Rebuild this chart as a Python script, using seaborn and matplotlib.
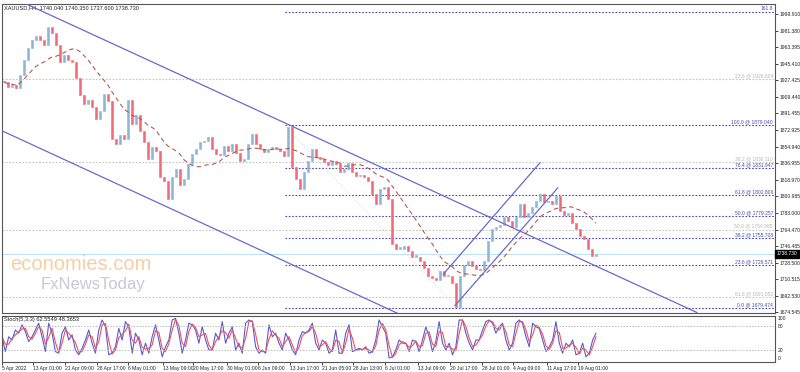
import numpy as np
import pandas as pd
import matplotlib
matplotlib.use("Agg")
import matplotlib.pyplot as plt
import seaborn as sns
from matplotlib.transforms import blended_transform_factory

# ---------------- data ----------------
closes = [1926.2, 1920.8, 1923.0, 1919.7, 1933.8, 1950.1, 1963.1, 1971.7, 1976.1, 1971.7,
          1966.3, 1986.0, 1979.3, 1966.3, 1947.9, 1955.5, 1950.1, 1947.9, 1930.5, 1912.1,
          1901.3, 1906.7, 1898.1, 1885.1, 1893.7, 1913.2, 1904.6, 1863.4, 1858.0, 1867.7,
          1863.4, 1906.7, 1879.6, 1889.4, 1872.1, 1860.2, 1841.7, 1854.7, 1850.4, 1822.2,
          1817.9, 1798.4, 1822.2, 1830.9, 1813.5, 1820.0, 1836.3, 1847.1, 1852.6, 1860.2,
          1861.2, 1865.6, 1852.6, 1847.1, 1846.0, 1855.8, 1850.4, 1858.0, 1848.2, 1839.5,
          1841.7, 1858.0, 1868.8, 1858.0, 1852.6, 1849.3, 1852.6, 1854.7, 1852.6, 1850.4,
          1845.0, 1877.0, 1833.0, 1820.0, 1809.2, 1827.6, 1839.5, 1852.6, 1843.9, 1841.7,
          1838.5, 1835.2, 1839.5, 1836.3, 1827.6, 1830.9, 1837.4, 1827.6, 1823.3, 1824.4,
          1822.2, 1817.9, 1803.8, 1793.0, 1809.2, 1811.4, 1798.4, 1749.6, 1744.2, 1744.2,
          1747.5, 1742.0, 1735.5, 1735.5, 1731.2, 1722.6, 1713.9, 1711.7, 1709.5, 1719.3,
          1713.9, 1713.9, 1706.3, 1681.0, 1713.9, 1725.8, 1731.2, 1724.7, 1722.5, 1720.4,
          1731.2, 1752.9, 1765.9, 1768.0, 1770.2, 1778.9, 1774.5, 1768.0, 1778.9, 1793.0,
          1778.9, 1783.2, 1789.7, 1796.2, 1803.8, 1795.1, 1796.2, 1793.0, 1801.6, 1785.4,
          1781.0, 1783.2, 1772.4, 1765.9, 1758.3, 1755.0, 1744.2, 1736.6, 1738.73]

stoch_k = [53, 16, 53, 45, 70, 62, 83, 66, 41, 53, 70, 87, 53, 16, 87, 62, 16, 12, 62, 78,
           45, 58, 20, 8, 24, 45, 70, 37, 12, 70, 95, 78, 8, 12, 28, 74, 45, 91, 78, 12,
           62, 45, 8, 37, 12, 53, 83, 45, 3, 28, 45, 95, 99, 62, 12, 45, 87, 83, 70, 37,
           78, 45, 20, 20, 62, 45, 91, 37, 62, 78, 20, 37, 12, 87, 95, 91, 28, 12, 20, 12,
           83, 53, 62, 37, 20, 62, 45, 20, 8, 45, 66, 62, 70, 87, 37, 20, 45, 37, 12, 20,
           70, 12, 12, 62, 83, 16, 20, 24, 20, 28, 12, 16, 45, 95, 78, 62, 0, 3, 20, 45,
           37, 37, 16, 45, 41, 16, 45, 78, 53, 16, 41, 91, 37, 20, 37, 8, 28, 95, 95, 62,
           37, 20, 45, 45, 70, 91, 95, 87, 62, 78, 87, 45, 20, 37, 87, 95, 87, 53, 28, 87,
           78, 74, 45, 16, 28, 45, 91, 37, 12, 37, 28, 45, 8, 12, 37, 3, 12, 45, 62]

fib_blue_levels = ["161.8", "100.0", "76.4", "61.8", "50.0", "38.2", "23.6", "0.0"]
fib_blue_prices = [2002.367, 1879.040, 1831.947, 1802.806, 1779.257, 1755.708, 1726.571, 1679.474]
fib_gray_levels = ["23.6", "38.2", "50.0", "61.8"]
fib_gray_prices = [1928.604, 1838.110, 1764.985, 1691.852]

price_ticks = [1999.910, 1981.380, 1963.395, 1945.410, 1927.425, 1909.440, 1891.455,
               1872.925, 1854.940, 1836.955, 1818.970, 1800.985, 1783.000, 1764.470,
               1746.485, 1728.500, 1710.515, 1692.530, 1674.545]

date_labels = ["5 Apr 2022", "13 Apr 01:00", "21 Apr 09:00", "28 Apr 17:00", "6 May 01:00",
               "13 May 09:00", "20 May 17:00", "30 May 01:00", "6 Jun 09:00", "13 Jun 17:00",
               "21 Jun 05:00", "28 Jun 13:00", "6 Jul 01:00", "13 Jul 09:00", "20 Jul 17:00",
               "28 Jul 01:00", "4 Aug 09:00", "11 Aug 17:00", "19 Aug 01:00"]
date_pos = [-0.5, 7.25, 15.25, 23.25, 31, 39.75, 47.25, 55.75, 63.5, 71.5, 79.5, 87.25,
            95.25, 103.5, 111.5, 119.5, 127.25, 135.75, 143.5]

# trend line anchors (bar index, price)
channel_upper = [(4.5, 2012.97), (173.25, 1674.5)]
channel_lower = [(-0.5, 1872.6), (98.5, 1673.45)]
rise_lower = [(112.75, 1682.1), (138.5, 1810.6)]
rise_upper = [(109.75, 1715.9), (134.0, 1837.8)]
faint_line = [(70.5, 1876.9), (112.75, 1682.1)]

last_price = 1738.73
header = "XAUUSD,H4  1740.040 1740.350 1737.600 1738.730"
stoch_title = "Stoch(5,3,3) 62.5549 48.3653"

# ---------------- figure ----------------
sns.set_style("white")
plt.rcParams['font.family'] = ['Liberation Sans', 'DejaVu Sans']
fig = plt.figure(figsize=(8, 3.72), dpi=100)
W, H = 800, 372
def fbox(x0, y0, x1, y1):
    return [x0 / W, 1 - y1 / H, (x1 - x0) / W, (y1 - y0) / H]

ax = fig.add_axes(fbox(2, 4, 775, 313))
axs = fig.add_axes(fbox(2, 316, 775, 362), sharex=ax)

fs = 3.6
blue = '#4a4ab8'
gray = '#c4c4c4'
XMIN, XMAX = -0.5, 192.75
YMIN, YMAX = 1674.0, 2010.8

# candles
df = pd.DataFrame({"close": closes})
df["open"] = df["close"].shift(1).fillna(df["close"].iloc[0])
df["idx"] = np.arange(len(df))
up = df["close"] >= df["open"]
col_up, col_dn = '#8ab6da', '#f26a76'
for mask, c in [(up, col_up), (~up, col_dn)]:
    sub = df[mask]
    h = (sub["close"] - sub["open"]).abs().clip(lower=1.2)
    ax.bar(sub["idx"], h, bottom=np.minimum(sub["open"], sub["close"]), width=0.6,
           color=c, edgecolor=c, linewidth=0.4, zorder=3)

# moving average
df["ma"] = df["close"].rolling(14, min_periods=1).mean()
sns.lineplot(data=df, x="idx", y="ma", ax=ax, color='#b35a55', lw=0.8,
             linestyle=(0, (4, 3)), zorder=4)

# fib lines
for lev, p in zip(fib_gray_levels, fib_gray_prices):
    ax.axhline(p, color=gray, lw=0.8, linestyle=(0, (1.5, 1.5)), zorder=1)
    ax.text(XMAX - 0.5, p + 0.8, f"{lev} @ {p:.3f}", color='#b8b8b8', fontsize=fs,
            ha='right', va='bottom', zorder=5)
for lev, p in zip(fib_blue_levels, fib_blue_prices):
    ax.plot([70.25, XMAX], [p, p], color=blue, lw=0.8, linestyle=(0, (1.5, 1.5)), zorder=2)
    txt = lev if lev == "161.8" else f"{lev} @ {p:.3f}"
    ax.text(XMAX - 0.5, p + 0.8, txt, color=blue, fontsize=fs, ha='right', va='bottom', zorder=5)

# current price line
ax.axhline(last_price, color='#bfe3f2', lw=0.8, zorder=1)

# trend lines
for line in [channel_upper, channel_lower, rise_lower, rise_upper]:
    xs, ys = zip(*line)
    ax.plot(xs, ys, color='#6a6acb', lw=0.9, zorder=5)
xs, ys = zip(*faint_line)
ax.plot(xs, ys, color='#e4e4ee', lw=0.8, linestyle=(0, (1.5, 1.5)), zorder=2)

ax.set_xlim(XMIN, XMAX)
ax.set_ylim(YMIN, YMAX)
ax.set_xlabel("")
ax.set_ylabel("")
ax.yaxis.tick_right()
ax.set_yticks(price_ticks)
ax.set_yticklabels([f"{v:.3f}" for v in price_ticks], fontsize=fs, color='#222222')
ax.tick_params(axis='y', length=2, width=0.6, pad=1, right=True, left=False)
ax.tick_params(axis='x', bottom=False, labelbottom=False)

# last price box
tr = blended_transform_factory(ax.transAxes, ax.transData)
ax.text(1.002, last_price, "1738.730", transform=tr, fontsize=fs, color='white',
        va='center', ha='left', zorder=10,
        bbox=dict(boxstyle='square,pad=0.3', fc='black', ec='black'))

# header and watermark
ax.text(0.003, 0.997, header, transform=ax.transAxes, fontsize=4.1, color='#222222',
        va='top', ha='left')
ax.text(0.011, 0.139, "economies.com", transform=ax.transAxes, fontsize=14.5,
        color='#f7c99c', alpha=0.9, va='baseline', ha='left', zorder=0)
ax.text(0.05, 0.078, "FxNewsToday", transform=ax.transAxes, fontsize=12,
        color='#c8c8d6', va='baseline', ha='left', zorder=0)

# stochastic
sk = pd.DataFrame({"k": stoch_k})
sk["x"] = np.linspace(-0.5, len(closes) - 1, len(sk))
sk["d"] = sk["k"].rolling(2, min_periods=1).mean()
sns.lineplot(data=sk, x="x", y="k", ax=axs, color='#5a5ad0', lw=0.8)
sns.lineplot(data=sk, x="x", y="d", ax=axs, color='#f05060', lw=0.8)
for lv in (80, 20):
    axs.axhline(lv, color='#bbbbbb', lw=0.7, linestyle=(0, (1.5, 1.5)))
axs.set_ylim(-10, 105)
axs.set_xlim(XMIN, XMAX)
axs.yaxis.tick_right()
axs.set_yticks([100, 80, 20, 0])
axs.set_yticklabels(["100", "80", "20", "0"], fontsize=fs, color='#222222')
axs.tick_params(axis='y', length=0, pad=2)
axs.set_xticks(date_pos)
axs.set_xticklabels(date_labels, fontsize=fs, color='#222222', ha='left')
axs.tick_params(axis='x', length=2, width=0.6, pad=1, bottom=True)
axs.set_xlabel("")
axs.set_ylabel("")
axs.text(0.003, 0.97, stoch_title, transform=axs.transAxes, fontsize=4.1,
         color='#222222', va='top', ha='left')

for a in (ax, axs):
    for s in a.spines.values():
        s.set_color('#555555')
        s.set_linewidth(0.8)

fig.savefig("out.png", dpi=100)
